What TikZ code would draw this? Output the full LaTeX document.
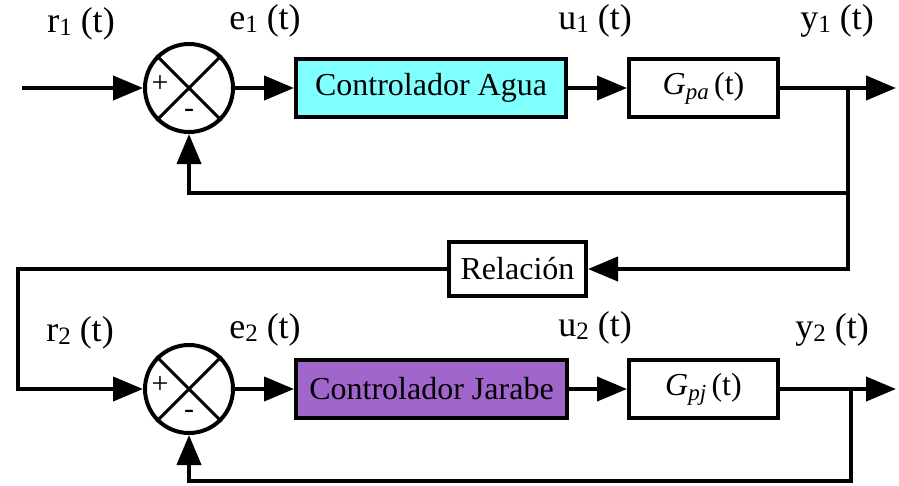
\documentclass[tikz,border=0pt]{standalone}
\usepackage{fontspec}
\setmainfont{Liberation Serif}
\usetikzlibrary{arrows.meta}

\definecolor{aguafill}{RGB}{128,255,255}
\definecolor{jarabefill}{RGB}{160,102,204}

% smaller, slightly lowered index used in the signal names
\newcommand{\idx}[1]{\raisebox{-0.15ex}{\fontsize{25}{25}\selectfont #1}}
\newcommand{\gsub}[1]{\raisebox{-0.35ex}{\fontsize{23}{23}\selectfont\itshape #1}}

\begin{document}
\begin{tikzpicture}[x=1pt,y=-1pt,
  every node/.style={font=\fontsize{32}{36}\selectfont, inner sep=0pt},
  wire/.style={line width=4pt, line join=miter},
  sig/.style={wire, -{Triangle[length=30pt,width=24pt]}},
  summer/.style={draw, line width=4pt, circle, minimum size=88pt},
  cross/.style={line width=3pt},
  sign/.style={font=\fontsize{30}{30}\selectfont},
  block/.style={draw, line width=4pt, rectangle, minimum height=58pt},
  lbl/.style={anchor=center, font=\fontsize{36}{40}\selectfont}]

  \useasboundingbox (0,0) rectangle (899,485);

  % --- upper loop: water ---
  \node[summer] (sum1) at (189,88) {};
  \draw[cross] (sum1.north west) -- (sum1.south east)
               (sum1.north east) -- (sum1.south west);
  \node[sign] (p1) at (160,84) {+};
  \node[sign] (m1) at (189,113) {-};

  \node[block, fill=aguafill, minimum width=270pt] (agua) at (431,88) {Controlador Agua};
  \node[block, minimum width=149pt] (gpa) at (703.5,88) {\textit{G}\gsub{pa}\,(t)};

  \coordinate (in1) at (22,88);
  \coordinate (out1) at (896,88);
  \coordinate (br1) at (848,88);
  \coordinate (fb1) at (848,193);

  \draw[sig] (in1) -- (sum1);
  \draw[sig] (sum1) -- (agua);
  \draw[sig] (agua) -- (gpa);
  \draw[sig] (gpa) -- (out1);
  \draw[sig] (br1) -- (fb1) -| (sum1.south);

  % --- lower loop: syrup ---
  \node[summer] (sum2) at (189,389) {};
  \draw[cross] (sum2.north west) -- (sum2.south east)
               (sum2.north east) -- (sum2.south west);
  \node[sign] (p2) at (160,385) {+};
  \node[sign] (m2) at (189,414) {-};

  \node[block, fill=jarabefill, minimum width=271pt] (jarabe) at (431.5,389) {Controlador Jarabe};
  \node[block, minimum width=149pt] (gpj) at (703.5,389) {\textit{G}\gsub{pj}\,(t)};

  \coordinate (out2) at (896,389);
  \coordinate (br2) at (851,389);
  \coordinate (fb2) at (851,481);

  \draw[sig] (sum2) -- (jarabe);
  \draw[sig] (jarabe) -- (gpj);
  \draw[sig] (gpj) -- (out2);
  \draw[sig] (br2) -- (fb2) -| (sum2.south);

  % --- ratio block linking the two loops ---
  \node[block, minimum width=137pt, minimum height=54pt] (rel) at (517.5,269) {Relación};
  \coordinate (lft) at (18,269);
  \draw[sig] (fb1) |- (rel.east);
  \draw[sig] (rel.west) -- (lft) |- (sum2.west);

  % --- signal names ---
  \node[lbl] (r1) at (81,24) {r\idx{1} (t)};
  \node[lbl] (e1) at (265,21) {e\idx{1} (t)};
  \node[lbl] (u1) at (595,21) {u\idx{1} (t)};
  \node[lbl] (y1) at (837,21) {y\idx{1} (t)};
  \node[lbl] (r2) at (80,333) {r\idx{2} (t)};
  \node[lbl] (e2) at (265,330) {e\idx{2} (t)};
  \node[lbl] (u2) at (595,328) {u\idx{2} (t)};
  \node[lbl] (y2) at (832,330) {y\idx{2} (t)};
\end{tikzpicture}
\end{document}
